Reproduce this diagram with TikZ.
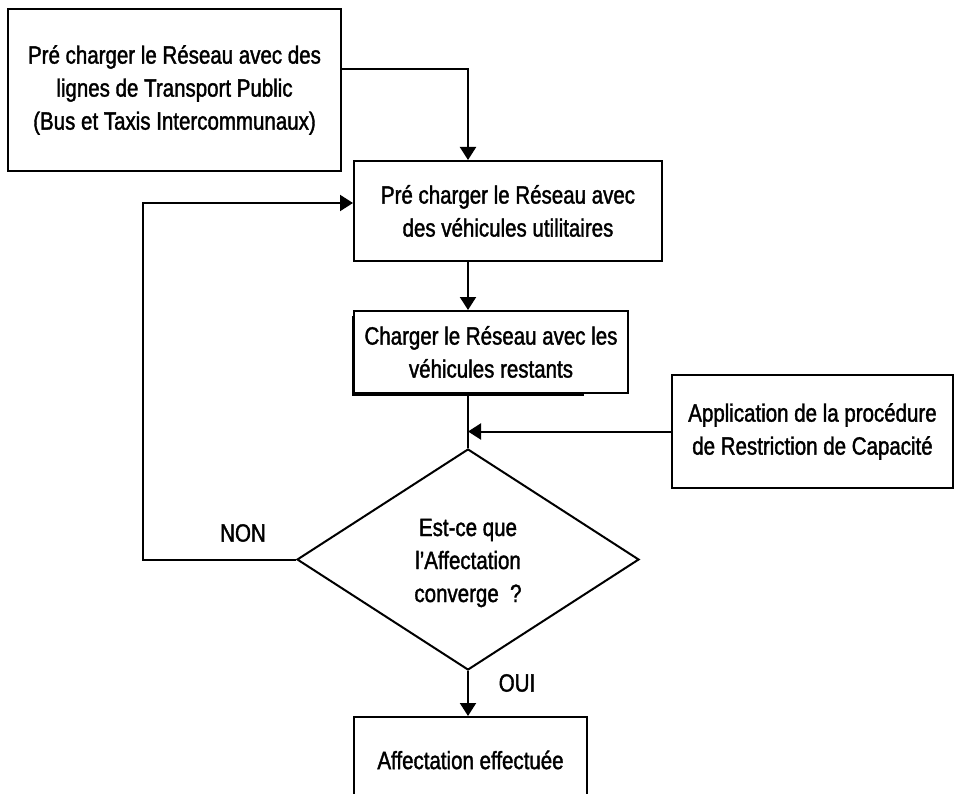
\documentclass[tikz,border=0pt]{standalone}
\usepackage{fontspec}
\setmainfont{Liberation Sans}[FakeStretch=0.82,FakeBold=1.5]
\usetikzlibrary{arrows.meta,shapes.geometric}
\begin{document}
\begin{tikzpicture}[x=1pt,y=-1pt,
  every node/.style={font=\fontsize{25}{33}\selectfont, align=center, inner sep=0pt},
  box/.style={draw, fill=white, rectangle, line width=2pt},
  dec/.style={draw, fill=white, diamond, line width=2pt, minimum width=342pt, minimum height=221pt},
  arr/.style={line width=2pt, -{Triangle[length=13pt,width=16pt]}},
  ln/.style={line width=2pt}]
  \useasboundingbox (0,0) rectangle (955,794);
  \clip (0,0) rectangle (955,794);

  % process boxes
  \node[box, minimum width=333pt, minimum height=162pt] (b1) at (174.5,90)
    {Pré charger le Réseau avec des\\lignes de Transport Public\\(Bus et Taxis Intercommunaux)};
  \node[box, minimum width=308pt, minimum height=100pt] (b2) at (508,211)
    {Pré charger le Réseau avec\\des véhicules utilitaires};
  \node[box, minimum width=230pt, minimum height=78pt] (b3back) at (468,356) {};
  \node[box, minimum width=274pt, minimum height=82pt] (b3) at (491,352)
    {Charger le Réseau avec les\\véhicules restants};
  \node[box, minimum width=281pt, minimum height=113pt] (rb) at (812.5,431.5)
    {Application de la procédure\\de Restriction de Capacité};
  \node[dec] (d) at (468,559.5) {};
  \node (dt) at (468,563) {Est-ce que\\l’Affectation\\converge~ ?};
  \node[box, minimum width=233pt, minimum height=120pt] (b4) at (470.5,777) {};
  \node (b4t) at (470.5,760) {Affectation effectuée};

  % branch labels
  \node (non) at (243,533) {NON};
  \node (oui) at (517,683) {OUI};

  % connectors
  \coordinate (loop) at (143,559.5);
  \draw[arr] ([yshift=21pt]b1.east) -| (b2.north -| d.north);
  \draw[arr] (b2.south -| d.north) -- (b3.north -| d.north);
  \draw[ln] (b3.south -| d.north) -- (d.north);
  \draw[arr] (rb.west) -- (rb.west -| d.north);
  \draw[arr] (d.west) -- (loop) |- ([yshift=8pt]b2.west);
  \draw[arr] (d.south) -- (b4.north -| d.south);
\end{tikzpicture}
\end{document}
